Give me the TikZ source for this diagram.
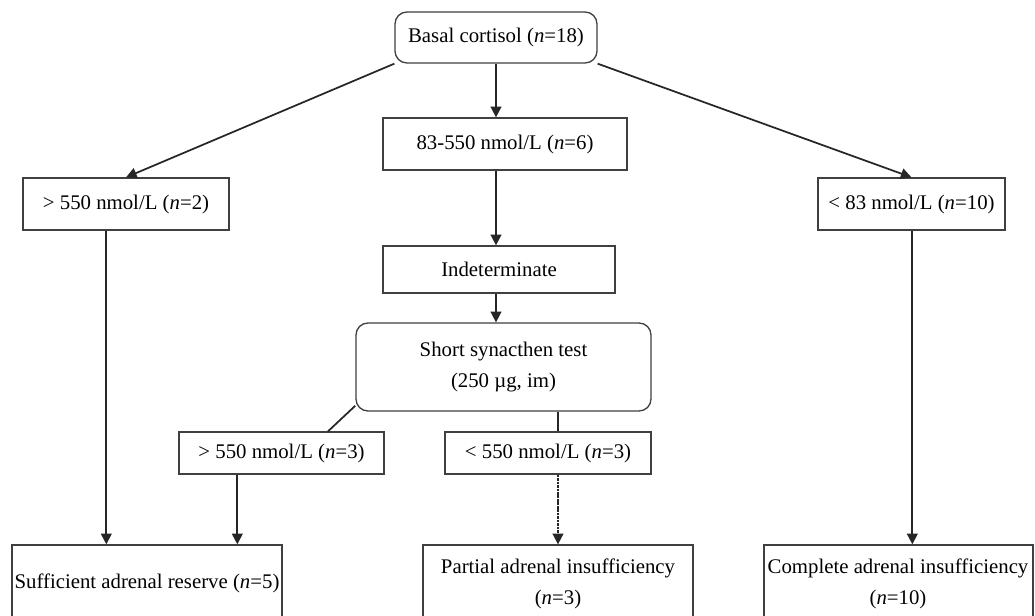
\documentclass[tikz,border=0pt]{standalone}
\usepackage{fontspec}
\setmainfont{Liberation Serif}
\usetikzlibrary{arrows.meta,calc}
\begin{document}
\begin{tikzpicture}[x=0.75pt,y=-0.75pt,
  txt/.style={font=\fontsize{15.6}{23}\selectfont,align=center},
  box/.style={txt,draw=black!75,line width=1pt,fill=white,inner sep=0pt},
  rbox/.style={box,rounded corners=9pt},
  conn/.style={line width=1.3pt,draw=black!85},
  arr/.style={conn,-{Triangle[length=8pt,width=8pt]}},
]
\useasboundingbox (0,0) rectangle (1035,615);
\fill[white] (0,0) rectangle (1035,615);
\begin{scope}
\clip (0,0) rectangle (1035,615);
\node[rbox,minimum width=151.5pt,minimum height=38.25pt] (basal) at (496,37.5) {Basal cortisol (\textit{n}=18)};
\node[box,minimum width=183pt,minimum height=39pt] (mid) at (505,144) {83-550 nmol/L (\textit{n}=6)};
\node[box,minimum width=154.5pt,minimum height=39pt] (gt2) at (126,204) {{>} 550 nmol/L (\textit{n}=2)};
\node[box,minimum width=140.25pt,minimum height=39pt] (lt83) at (911.5,204) {{<} 83 nmol/L (\textit{n}=10)};
\node[box,minimum width=174pt,minimum height=35.25pt] (indet) at (499,269.5) {Indeterminate};
\node[rbox,minimum width=221.25pt,minimum height=66pt] (short) at (503.5,367) {Short synacthen test\\(250 µg, im)};
\node[box,minimum width=153.75pt,minimum height=31.5pt] (gt3) at (281.5,453) {{>} 550 nmol/L (\textit{n}=3)};
\node[box,minimum width=154.5pt,minimum height=31.5pt] (lt3) at (548,453) {{<} 550 nmol/L (\textit{n}=3)};
\node[box,minimum width=202.5pt,minimum height=66pt] (suff) at (147,589) {};
\node[txt] (sufft) at (147,583) {Sufficient adrenal reserve (\textit{n}=5)};
\node[box,minimum width=202.5pt,minimum height=66pt] (part) at (558,589) {};
\node[txt] (partt) at (558,584) {Partial adrenal insufficiency\\(\textit{n}=3)};
\node[box,minimum width=201.75pt,minimum height=66pt] (comp) at (898.5,589) {};
\node[txt] (compt) at (898,584) {Complete adrenal insufficiency\\(\textit{n}=10)};
\end{scope}
% helper coordinates
\coordinate (sA) at ($(suff.north west)+(95,0)$);
\coordinate (sB) at ($(suff.north west)+(226,0)$);
\coordinate (cA) at ($(comp.north west)+(149,0)$);
\coordinate (gtA) at ($(gt3.north)+(46.5,0)$);
\coordinate (shA) at ($(short.south west)+(0,-6)$);
% connectors
\draw[arr] (basal.south) -- (basal.south |- mid.north);
\draw[arr] (basal.south west) -- (gt2.north);
\draw[arr] (basal.south east) -- (lt83.north);
\draw[arr] (basal.south |- mid.south) -- (basal.south |- indet.north);
\draw[arr] (basal.south |- indet.south) -- (basal.south |- short.north);
\draw[conn] (shA) -- (gtA);
\draw[conn] (part.north |- short.south) -- (part.north |- lt3.north);
\draw[arr,dash pattern=on 2pt off 0.6pt] (part.north |- lt3.south) -- (part.north);
\draw[arr] (sB |- gt3.south) -- (sB);
\draw[arr] (sA |- gt2.south) -- (sA);
\draw[arr] (cA |- lt83.south) -- (cA);
\end{tikzpicture}
\end{document}
